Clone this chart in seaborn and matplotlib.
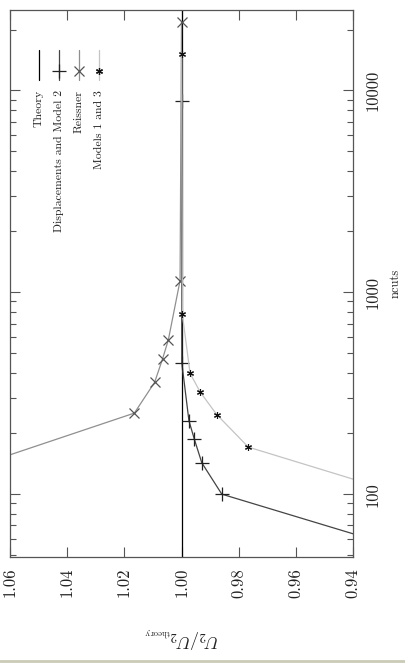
import matplotlib
matplotlib.use('Agg')
import matplotlib.pyplot as plt
from matplotlib.lines import Line2D
from matplotlib.ticker import FixedLocator, LogLocator, NullFormatter
import seaborn as sns

# data (plot is drawn rotated: ratio runs horizontally, ncuts vertically)
theory_ncuts = [40, 30000]
theory_ratio = [1.0, 1.0]

disp_ncuts = [50, 100, 143, 187, 231, 448, 8850]
disp_ratio = [0.9155, 0.9859, 0.9929, 0.9955, 0.9974, 0.9999, 1.0]

reissner_ncuts = [100, 252, 358, 469, 581, 1143, 21900]
reissner_ratio = [1.101, 1.0165, 1.0094, 1.0066, 1.0046, 1.0005, 1.0]

models_ncuts = [100, 171, 248, 321, 397, 776, 15140]
models_ratio = [0.9228, 0.9766, 0.9877, 0.9935, 0.997, 0.9997, 0.9999]

ratio_ticks = [1.06, 1.04, 1.02, 1.00, 0.98, 0.96, 0.94]
ncuts_ticks = [100, 1000, 10000]

sns.set_style('ticks')
plt.rcParams['font.family'] = ['cmr10', 'DejaVu Serif']
plt.rcParams['mathtext.fontset'] = 'cm'
plt.rcParams['axes.formatter.use_mathtext'] = True

fig = plt.figure(figsize=(4.06, 6.68), dpi=100)
W, H = 406.0, 668.0
ax = fig.add_axes([10 / W, 1 - 556.7 / H, 343 / W, 546.7 / H])

star = (6, 2, 0)

sns.lineplot(x=theory_ratio, y=theory_ncuts, sort=False, estimator=None,
             color='black', lw=0.9, ax=ax)
sns.lineplot(x=disp_ratio, y=disp_ncuts, sort=False, estimator=None,
             color='#444444', lw=0.9, marker='+', markersize=10,
             markeredgecolor='#222222', markeredgewidth=0.9, ax=ax)
sns.lineplot(x=reissner_ratio, y=reissner_ncuts, sort=False, estimator=None,
             color='#8f8f8f', lw=0.9, marker='x', markersize=7,
             markeredgecolor='#555555', markeredgewidth=0.9, ax=ax)
sns.lineplot(x=models_ratio, y=models_ncuts, sort=False, estimator=None,
             color='#c4c4c4', lw=0.9, marker=star, markersize=5,
             markeredgecolor='#111111', markeredgewidth=0.8, ax=ax)

ax.set_yscale('log')
ax.set_xlim(1.06, 0.94)
ax.set_ylim(49, 25000)

ax.set_xticks(ratio_ticks)
ax.set_xticklabels(['%.2f' % t for t in ratio_ticks])
ax.yaxis.set_major_locator(FixedLocator(ncuts_ticks))
ax.set_yticklabels([str(t) for t in ncuts_ticks])
ax.yaxis.set_minor_locator(LogLocator(base=10, subs=range(2, 10)))
ax.yaxis.set_minor_formatter(NullFormatter())
ax.yaxis.tick_right()

ax.tick_params(axis='x', which='both', direction='in', top=True, bottom=True,
               length=7, width=0.8, color='#555555', labelrotation=90,
               labelsize=12, pad=8, labelcolor='#222222')
ax.tick_params(axis='y', which='major', direction='in', left=True, right=True,
               length=7, width=0.8, color='#555555', labelrotation=90,
               labelsize=12, pad=9, labelcolor='#222222')
ax.tick_params(axis='y', which='minor', direction='in', left=True, right=True,
               length=4, width=0.8, color='#555555')
for lab in ax.get_yticklabels():
    lab.set_verticalalignment('center')

for s in ax.spines.values():
    s.set_color('#555555')
    s.set_linewidth(0.9)

ax.set_xlabel(r'$U_2/U_{2_{\mathrm{theory}}}$', rotation=180, fontsize=13,
              labelpad=20, color='#222222')
ax.yaxis.set_label_position('right')
ax.set_ylabel('ncuts', rotation=90, fontsize=9, labelpad=6, color='#222222')

# legend, drawn rotated like the rest of the figure
leg_names = ['Theory', 'Displacements and Model 2', 'Reissner', 'Models 1 and 3']
leg_style = [
    dict(color='black', marker=None),
    dict(color='#444444', marker='+', markersize=10, mec='#222222'),
    dict(color='#8f8f8f', marker='x', markersize=7, mec='#555555'),
    dict(color='#c4c4c4', marker=star, markersize=5, mec='#111111'),
]
leg_x = [39, 59, 79, 99]
for name, st, px in zip(leg_names, leg_style, leg_x):
    fx = px / W
    fig.add_artist(Line2D([fx, fx], [1 - 50 / H, 1 - 80 / H], lw=0.9,
                          color=st['color'], transform=fig.transFigure))
    if st['marker'] is not None:
        fig.add_artist(Line2D([fx], [1 - 71 / H], marker=st['marker'],
                              markersize=st['markersize'], mec=st['mec'],
                              mew=0.9, lw=0, transform=fig.transFigure))
    fig.text(fx, 1 - 90 / H, name, rotation=90, ha='center', va='top',
             fontsize=8.5, color='#222222')

# bottom frame line of the original screenshot
fig.add_artist(Line2D([0, 1], [1 - 660.5 / H, 1 - 660.5 / H], lw=2,
                      color='#cbcbb8', transform=fig.transFigure))

fig.savefig('out.png', dpi=100)
